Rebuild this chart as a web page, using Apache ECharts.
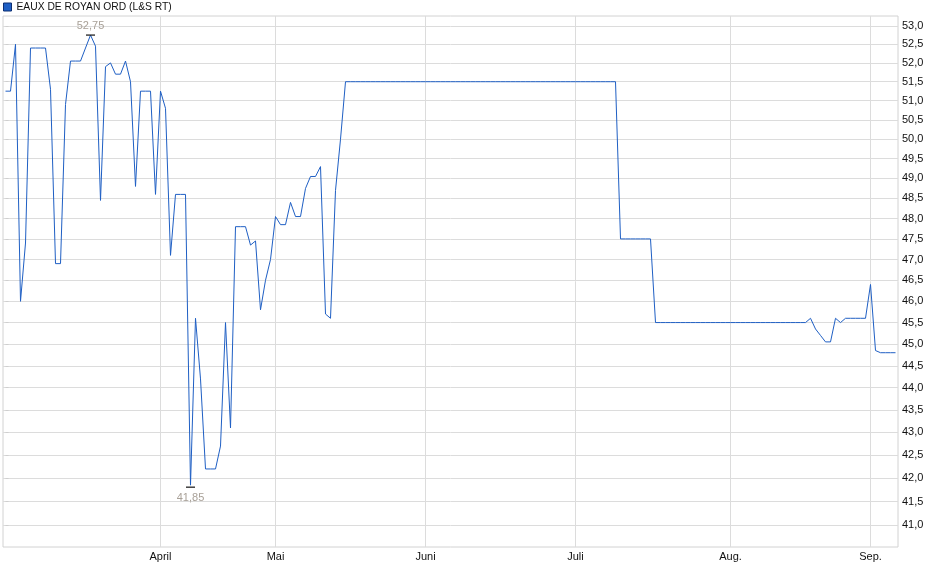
<!DOCTYPE html>
<html>
<head>
<meta charset="utf-8">
<title>EAUX DE ROYAN ORD (L&amp;S RT)</title>
<script src="https://cdn.jsdelivr.net/npm/echarts@6/dist/echarts.min.js"></script>
<style>
html, body { margin: 0; padding: 0; background: #fff; }
#main { width: 940px; height: 579px; }
</style>
</head>
<body>
<div id="main"></div>
<script>
var seriesName = 'EAUX DE ROYAN ORD (L&S RT)';

// one price per trading slot
var prices = [
    51.25, 51.25, 52.5, 46.0, 47.4, 52.4, 52.4, 52.4, 52.4, 51.3,
    46.9, 46.9, 50.9, 52.05, 52.05, 52.05, 52.4, 52.75, 52.45, 48.45,
    51.9, 52.0, 51.7, 51.7, 52.05, 51.5, 48.8, 51.25, 51.25, 51.25,
    48.6, 51.25, 50.8, 47.1, 48.6, 48.6, 48.6, 41.85, 45.6, 44.2,
    42.2, 42.2, 42.2, 42.7, 45.5, 43.1, 47.8, 47.8, 47.8, 47.35,
    47.45, 45.8, 46.5, 47.0, 48.05, 47.85, 47.85, 48.4, 48.05, 48.05,
    48.75, 49.05, 49.05, 49.3, 45.7, 45.6, 48.7, 50.0,
    51.5, 51.5, 51.5, 51.5, 51.5, 51.5, 51.5, 51.5, 51.5, 51.5,
    51.5, 51.5, 51.5, 51.5, 51.5, 51.5, 51.5, 51.5, 51.5, 51.5,
    51.5, 51.5, 51.5, 51.5, 51.5, 51.5, 51.5, 51.5, 51.5, 51.5,
    51.5, 51.5, 51.5, 51.5, 51.5, 51.5, 51.5, 51.5, 51.5, 51.5,
    51.5, 51.5, 51.5, 51.5, 51.5, 51.5, 51.5, 51.5, 51.5, 51.5,
    51.5, 51.5, 51.5, 51.5, 51.5,
    47.5, 47.5, 47.5, 47.5, 47.5, 47.5, 47.5,
    45.5, 45.5, 45.5, 45.5, 45.5, 45.5, 45.5, 45.5, 45.5, 45.5,
    45.5, 45.5, 45.5, 45.5, 45.5, 45.5, 45.5, 45.5, 45.5, 45.5,
    45.5, 45.5, 45.5, 45.5, 45.5, 45.5, 45.5, 45.5, 45.5, 45.5,
    45.5, 45.6, 45.35, 45.2, 45.05, 45.05, 45.6, 45.5, 45.6, 45.6,
    45.6, 45.6, 45.6, 46.4, 44.85, 44.8, 44.8, 44.8, 44.8
];

// slot index where each month starts
var monthSlots = [31, 54, 84, 114, 145, 173];
var monthNames = ['April', 'Mai', 'Juni', 'Juli', 'Aug.', 'Sep.'];

var priceTicks = [
    41.0, 41.5, 42.0, 42.5, 43.0, 43.5, 44.0, 44.5, 45.0, 45.5, 46.0, 46.5, 47.0,
    47.5, 48.0, 48.5, 49.0, 49.5, 50.0, 50.5, 51.0, 51.5, 52.0, 52.5, 53.0
];

var points = prices.map(function (v, i) { return [i, v]; });

function deNum(v, d) {
    return v.toFixed(d).replace('.', ',');
}

var myChart = echarts.init(document.getElementById('main'));
var option = {
    animation: false,
    backgroundColor: '#fff',
    textStyle: { fontFamily: 'Liberation Sans, Arial, sans-serif' },
    legend: {
        left: 3,
        top: 2,
        padding: 0,
        icon: 'rect',
        itemWidth: 8,
        itemHeight: 8,
        selectedMode: false,
        itemStyle: { borderColor: '#0d2f73', borderWidth: 1 },
        textStyle: { fontSize: 10.3, color: '#111', fontFamily: 'Liberation Sans, Arial, sans-serif' },
        data: [seriesName]
    },
    grid: {
        left: 3,
        right: 42,
        top: 16,
        bottom: 32,
        containLabel: false,
        outerBoundsMode: 'none',
        show: true,
        borderColor: '#d2d2d2',
        borderWidth: 1
    },
    xAxis: {
        type: 'value',
        min: -0.5,
        max: prices.length - 0.5,
        axisLine: { show: false },
        axisTick: { show: false, customValues: monthSlots },
        splitLine: { show: true, lineStyle: { color: '#dcdcdc', width: 1 } },
        axisLabel: {
            customValues: monthSlots,
            margin: 4,
            fontSize: 11,
            color: '#111',
            formatter: function (v) {
                var k = monthSlots.indexOf(Math.round(v));
                return k < 0 ? '' : monthNames[k];
            }
        }
    },
    yAxis: {
        type: 'log',
        logBase: 10,
        position: 'right',
        min: 40.54,
        max: 53.27,
        axisLine: { show: false },
        axisTick: { show: true, length: 3, customValues: priceTicks, lineStyle: { color: '#cfcfcf' } },
        splitLine: { show: true, lineStyle: { color: '#dcdcdc', width: 1 } },
        axisLabel: {
            customValues: priceTicks,
            margin: 4,
            fontSize: 11,
            color: '#111',
            formatter: function (v) { return deNum(v, 1); }
        }
    },
    series: [{
        name: seriesName,
        type: 'line',
        data: points,
        showSymbol: false,
        symbol: 'none',
        color: '#1f5fc4',
        lineStyle: { color: '#1f5fc4', width: 1 },
        markPoint: {
            symbol: 'rect',
            symbolSize: [9, 1.2],
            itemStyle: { color: '#111' },
            label: {
                fontSize: 11,
                color: '#a8a097',
                formatter: function (p) { return deNum(p.value, 2); }
            },
            data: [
                { type: 'max', label: { position: 'top', distance: 3 } },
                { type: 'min', symbolOffset: [0, 2], label: { position: 'bottom', distance: 5 } }
            ]
        }
    }]
};
myChart.setOption(option);
</script>
</body>
</html>
